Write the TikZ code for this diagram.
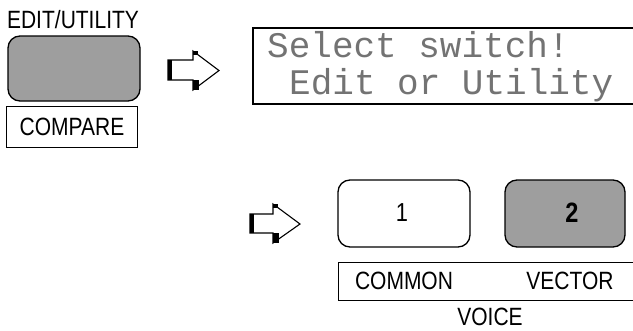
\documentclass[tikz,border=0pt]{standalone}
\usepackage{fontspec}
\newfontfamily\panelfont[FakeStretch=0.84]{Liberation Sans}
\newfontfamily\lcdfont{Liberation Mono}

\tikzset{
    panel text/.style={font=\panelfont\fontsize{25}{28}\selectfont, inner sep=0pt},
    lcd text/.style={font=\lcdfont\fontsize{36}{40}\selectfont, text=black!55, inner sep=0pt, anchor=base west},
    key/.style={draw, line width=1.3pt, rounded corners=12pt, inner sep=0pt},
    lit key/.style={key, fill=black!38},
}

\begin{document}
\begin{tikzpicture}[x=1pt, y=-1pt]

    \useasboundingbox (0, 0) rectangle (633, 330);

    %% Edit/Utility switch

    % Label
    \node [panel text] (editlabel) at (73, 20) {EDIT/UTILITY};

    % Switch
    \node [lit key, minimum width=132pt, minimum height=65pt] (editkey) at (74, 68.5) {};

    % Compare box
    \draw [line width=0.9pt] (6, 106) rectangle (137, 147);
    \node [panel text] (compare) at (72, 127) {COMPARE};

    %% First arrow
    \begin{scope}[shift={(168, 51)}]
        \draw [line width=1.1pt, line join=miter]
            (0, 9) -- (25, 9) -- (25, 0) -- (51, 19.5) -- (25, 39) -- (25, 29) -- (0, 29) -- cycle;
        \fill (0, 9) rectangle (4, 29);
        \fill (25, 29) rectangle (31, 39);
        \fill (25, 0) rectangle (30, 4);
    \end{scope}

    %% Display
    \draw [line width=1.2pt] (633, 28) -- (253, 28) -- (253, 104) -- (633, 104);
    \node [lcd text] (line1) at (267, 57) {Select switch!};
    \node [lcd text] (line2) at (289, 94) {Edit or Utility};

    %% Second arrow
    \begin{scope}[shift={(250, 204)}]
        \draw [line width=1.1pt, line join=miter]
            (0, 10) -- (23, 10) -- (23, 0) -- (50, 20) -- (23, 39) -- (23, 29) -- (0, 29) -- cycle;
        \fill (0, 10) rectangle (4, 29);
        \fill (23, 29) rectangle (29, 39);
        \fill (23, 0) rectangle (28, 4);
    \end{scope}

    %% Voice switches

    % Switch 1
    \node [key, minimum width=132pt, minimum height=67pt] (key1) at (404, 213.5) {};
    \node [panel text, font=\panelfont\fontsize{26}{28}\selectfont] (num1) at (402, 213) {1};

    % Switch 2
    \node [lit key, minimum width=120pt, minimum height=67pt] (key2) at (565, 213.5) {};
    \node [panel text, font=\panelfont\bfseries\fontsize{28}{30}\selectfont] (num2) at (572, 213) {2};

    % Label box
    \draw [line width=0.9pt] (633, 262) -- (338, 262) -- (338, 300) -- (633, 300);
    \node [panel text] (common) at (404, 281) {COMMON};
    \node [panel text] (vector) at (570, 281) {VECTOR};
    \node [panel text] (voice) at (490, 317) {VOICE};

\end{tikzpicture}
\end{document}
